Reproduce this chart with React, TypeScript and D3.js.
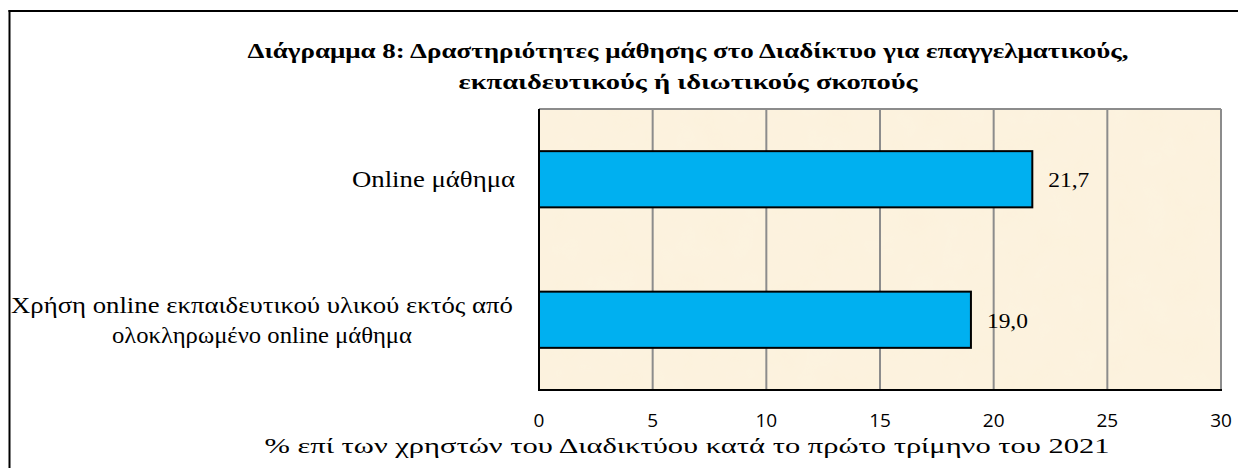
import React from "react";
import * as d3 from "d3";

const categories: string[][] = [
  ["Online μάθημα"],
  ["Χρήση  online εκπαιδευτικού υλικού εκτός από", "ολοκληρωμένο online μάθημα"],
];
const values: number[] = [21.7, 19.0];
const xTicks: number[] = [0, 5, 10, 15, 20, 25, 30];
const titleLines: string[] = [
  "Διάγραμμα 8: Δραστηριότητες μάθησης στο Διαδίκτυο για επαγγελματικούς,",
  "εκπαιδευτικούς ή ιδιωτικούς σκοπούς",
];
const xAxisTitle = "% επί των χρηστών  του Διαδικτύου κατά το πρώτο τρίμηνο του 2021";

const W = 1238;
const H = 468;
const plot = { left: 539, right: 1221, top: 109, bottom: 390 };

// measured text widths in the reference (px)
const titleWidths = [881, 459];
const labelWidths: number[][] = [[163], [502, 300]];

export default function App() {
  const x = d3.scaleLinear().domain([0, 30]).range([plot.left, plot.right]);
  const y = d3
    .scaleBand<number>()
    .domain(categories.map((_, i) => i))
    .range([plot.top, plot.bottom])
    .paddingInner(0.6)
    .paddingOuter(0.3);
  const serif: React.CSSProperties = { fontFamily: '"Liberation Serif", "DejaVu Serif", serif' };
  const sans: React.CSSProperties = { fontFamily: '"Open Sans", "Noto Sans", sans-serif' };
  const fmt = (v: number) => v.toFixed(1).replace(".", ",");

  return (
    <div style={{ position: "absolute", left: 0, top: 0, width: W, height: H, overflow: "hidden" }}>
      <svg width={W} height={H} style={{ display: "block", background: "#fff" }}>
        <defs>
          <filter id="tex" x="0" y="0" width="100%" height="100%">
            <feTurbulence type="fractalNoise" baseFrequency="0.03" numOctaves="3" seed="4" />
            <feColorMatrix
              type="matrix"
              values="0 0 0 0 0.98  0 0 0 0 0.93  0 0 0 0 0.80  0 0 0 0.35 0"
            />
            <feComposite in2="SourceGraphic" operator="in" />
          </filter>
        </defs>
        {/* outer frame (left and top edges visible) */}
        <line x1={9.5} x2={9.5} y1={10} y2={H} stroke="#000" strokeWidth={2} />
        <line x1={8.5} x2={W} y1={11} y2={11} stroke="#000" strokeWidth={2} />

        {/* title */}
        {titleLines.map((t, i) => (
          <text
            key={i}
            x={688}
            y={58 + i * 31}
            textAnchor="middle"
            style={serif}
            fontWeight="bold"
            fontSize={21}
            textLength={titleWidths[i]}
            lengthAdjust="spacingAndGlyphs"
            fill="#000"
          >
            {t}
          </text>
        ))}

        {/* plot background */}
        <rect
          x={plot.left}
          y={plot.top}
          width={plot.right - plot.left}
          height={plot.bottom - plot.top}
          fill="#FCF1DC"
        />
        <rect
          x={plot.left}
          y={plot.top}
          width={plot.right - plot.left}
          height={plot.bottom - plot.top}
          fill="#fff"
          filter="url(#tex)"
        />

        {/* gridlines */}
        {xTicks.slice(1).map((t) => (
          <line
            key={t}
            x1={x(t)}
            x2={x(t)}
            y1={plot.top}
            y2={plot.bottom}
            stroke="#8c8c8c"
            strokeWidth={2}
          />
        ))}
        <line x1={plot.left} x2={plot.right} y1={plot.top} y2={plot.top} stroke="#8c8c8c" strokeWidth={2} />

        {/* bars */}
        {values.map((v, i) => (
          <rect
            key={i}
            x={x(0)}
            y={y(i)!}
            width={x(v) - x(0)}
            height={y.bandwidth()}
            fill="#00B0F0"
            stroke="#000"
            strokeWidth={2}
          />
        ))}

        {/* axes lines */}
        <line x1={plot.left} x2={plot.left} y1={plot.top} y2={plot.bottom + 1} stroke="#000" strokeWidth={2} />
        <line x1={plot.left} x2={plot.right + 1} y1={plot.bottom} y2={plot.bottom} stroke="#000" strokeWidth={2} />

        {/* value labels */}
        {values.map((v, i) => (
          <text
            key={i}
            x={x(v) + 16}
            y={y(i)! + y.bandwidth() / 2 + 8}
            style={serif}
            fontSize={20}
            textLength={41}
            lengthAdjust="spacingAndGlyphs"
            fill="#000"
          >
            {fmt(v)}
          </text>
        ))}

        {/* category labels */}
        {categories.map((lines, i) => {
          const cy = y(i)! + y.bandwidth() / 2;
          const lh = 30;
          const startY = cy - ((lines.length - 1) * lh) / 2 + 8;
          const multi = lines.length > 1;
          return (
            <g key={i}>
              {lines.map((l, j) => (
                <text
                  key={j}
                  x={multi ? 262 : 515}
                  y={startY + j * lh}
                  textAnchor={multi ? "middle" : "end"}
                  style={serif}
                  fontSize={23}
                  textLength={labelWidths[i][j]}
                  lengthAdjust="spacingAndGlyphs"
                  fill="#000"
                >
                  {l}
                </text>
              ))}
            </g>
          );
        })}

        {/* x tick labels */}
        {xTicks.map((t) => (
          <text
            key={t}
            x={x(t)}
            y={427}
            textAnchor="middle"
            style={sans}
            fontSize={19}
            fill="#000"
          >
            {t}
          </text>
        ))}

        {/* x axis title */}
        <text
          x={687}
          y={453}
          textAnchor="middle"
          style={serif}
          fontSize={22}
          textLength={845}
          lengthAdjust="spacingAndGlyphs"
          fill="#000"
        >
          {xAxisTitle}
        </text>
      </svg>
    </div>
  );
}
